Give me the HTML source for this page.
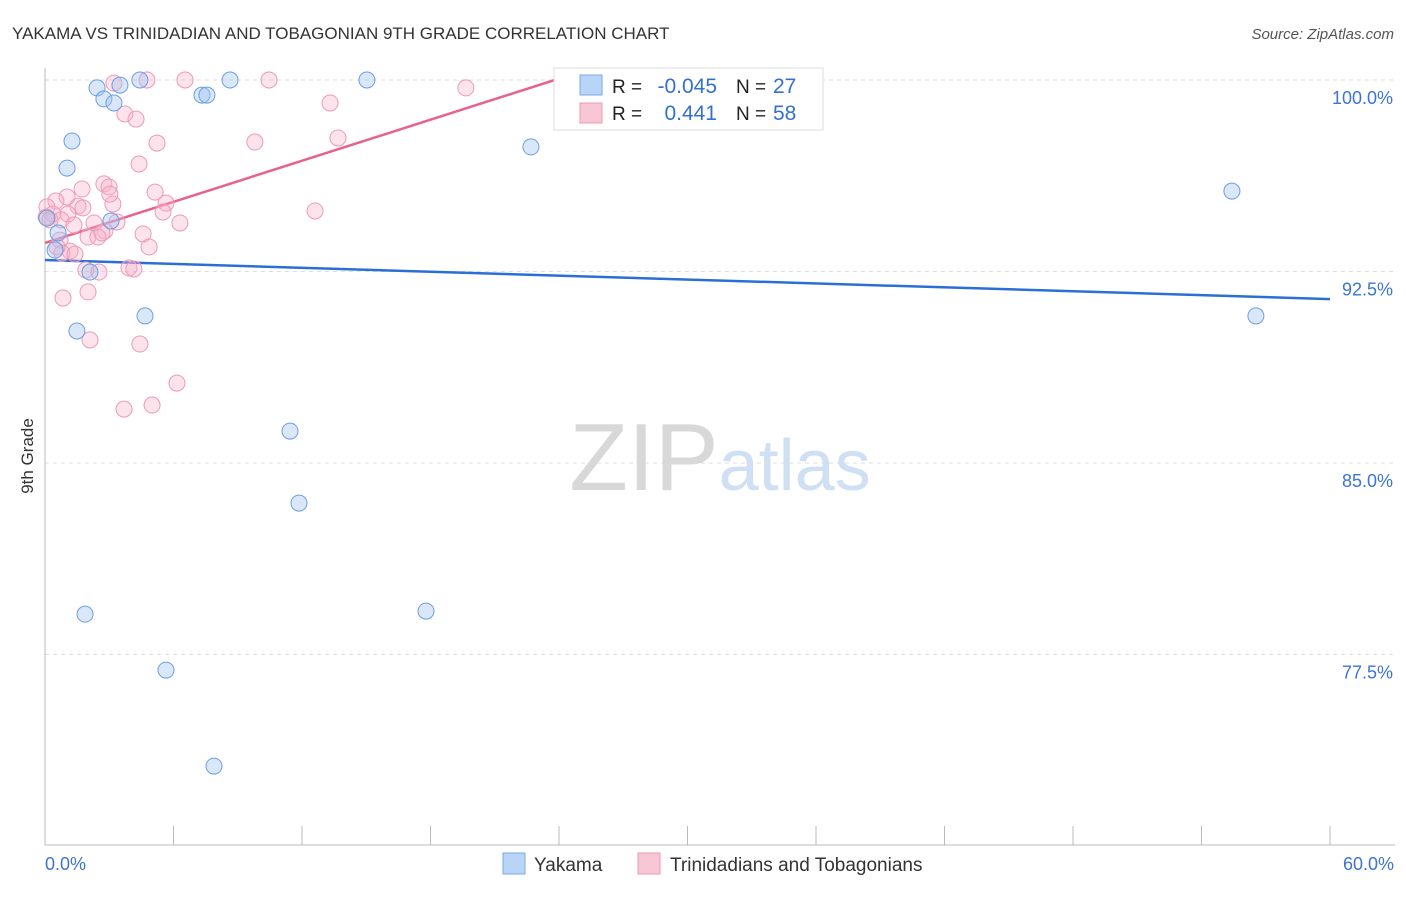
<!DOCTYPE html>
<html><head><meta charset="utf-8"><style>
body{margin:0;background:#fff;font-family:"Liberation Sans",sans-serif;}
svg text{font-family:"Liberation Sans",sans-serif;}
</style></head><body>
<svg id="chart" width="1406" height="892">
<text x="12" y="39" font-size="17" fill="#333">YAKAMA VS TRINIDADIAN AND TOBAGONIAN 9TH GRADE CORRELATION CHART</text>
<text x="1394" y="39" font-size="15" fill="#555" font-style="italic" text-anchor="end">Source: ZipAtlas.com</text>
<text x="33" y="456" font-size="17" fill="#333" transform="rotate(-90 33 456)" text-anchor="middle">9th Grade</text>
<text x="720" y="490" font-size="96" fill="#ddd" text-anchor="middle" font-family="Liberation Serif"><tspan fill="#d8d8d8">ZIP</tspan><tspan fill="#cfe0f4" font-family="Liberation Sans" font-size="72">atlas</tspan></text>
<g id="grid"></g><g id="axes"></g><g id="trends"></g><g id="pts"></g>
<g>
<rect x="554" y="68" width="269" height="62" fill="#fff" stroke="#ddd"/>
<rect x="580" y="75" width="22" height="20" fill="#b8d4f6" stroke="#7aaae6"/>
<rect x="580" y="103" width="22" height="20" fill="#f9c6d6" stroke="#eb9ab5"/>
<text x="612" y="93" font-size="19" fill="#222">R = </text><text x="717" y="93" font-size="21" fill="#3470d0" text-anchor="end">-0.045</text>
<text x="736" y="93" font-size="19" fill="#222">N = </text><text x="773" y="93" font-size="21" fill="#3470d0">27</text>
<text x="612" y="120" font-size="19" fill="#222">R = </text><text x="717" y="120" font-size="21" fill="#3470d0" text-anchor="end">0.441</text>
<text x="736" y="120" font-size="19" fill="#222">N = </text><text x="773" y="120" font-size="21" fill="#3470d0">58</text>
</g>
<g>
<rect x="503" y="853" width="22" height="21" fill="#b8d4f6" stroke="#7aaae6"/>
<text x="534" y="871" font-size="19" fill="#333">Yakama</text>
<rect x="638" y="853" width="22" height="21" fill="#f9c6d6" stroke="#eb9ab5"/>
<text x="670" y="871" font-size="19" fill="#333">Trinidadians and Tobagonians</text>
</g>
</svg>
<script>
const yTicks=[100,92.5,85,77.5];
const yTickLabels=["100.0%","92.5%","85.0%","77.5%"];
const xTicks=[0,6,12,18,24,30,36,42,48,54,60];
const blueX=[2.43,3.5,2.75,3.22,4.43,8.64,15.03,7.33,7.56,1.26,1.03,22.69,55.42,3.08,0.09,0.61,0.47,2.1,1.49,4.67,56.54,11.44,11.86,1.87,17.79,5.65,7.89];
const blueY=[99.69,99.8,99.26,99.1,100,100,100,99.41,99.41,97.61,96.55,97.38,95.65,94.48,94.59,94.01,93.34,92.48,90.17,90.76,90.76,86.25,83.43,79.08,79.2,76.89,73.13];
const pinkX=[3.22,4.76,6.54,10.46,28.29,19.65,13.31,3.73,4.25,9.8,13.68,5.23,4.39,2.75,2.99,1.73,1.03,5.14,0.51,0.09,1.54,3.17,5.65,5.51,12.61,0.37,1.07,0.05,0.75,3.36,6.3,2.29,2.8,4.58,2.01,2.47,0.7,4.86,1.17,0.79,1.4,1.91,2.52,3.92,4.15,2.01,0.84,2.1,4.43,6.16,5.0,3.69,1.35,0.23,2.66,0.56,3.03,1.77];
const pinkY=[99.88,100,100,100,100,99.69,99.1,98.67,98.47,97.57,97.73,97.53,96.71,95.93,95.81,95.73,95.42,95.61,95.26,95.03,95.06,95.14,95.18,94.83,94.87,94.75,94.75,94.63,94.52,94.44,94.4,94.4,94.09,93.97,93.85,93.85,93.73,93.46,93.3,93.22,93.18,92.56,92.48,92.64,92.6,91.7,91.46,89.82,89.66,88.13,87.27,87.11,94.32,94.52,94.01,93.46,95.53,94.99];
const blueTrend=[[0,92.95],[60,91.42]];
const pinkTrend=[[0,93.62],[23.8,100]];
const X=v=>45+v*(1285/60), Y=v=>80+(100-v)*(191.5/7.5);
const NS="http://www.w3.org/2000/svg";
function mk(tag,attrs,parent){const e=document.createElementNS(NS,tag);for(const k in attrs)e.setAttribute(k,attrs[k]);document.getElementById(parent).appendChild(e);return e;}
yTicks.forEach((t,i)=>{
 const l=mk('line',{x1:45,x2:1395,y1:Y(t),y2:Y(t),stroke:'#ddd','stroke-dasharray':'4,4'},'grid');
 
 
 const tx=mk('text',{x:1393,y:Y(t)+24,'font-size':18,fill:'#3d74d2','text-anchor':'end'},'grid');tx.textContent=yTickLabels[i];
 
 
});
const ax=mk('line',{x1:45,x2:45,y1:68,y2:845,stroke:'#bbb'},'axes');


const bx=mk('line',{x1:45,x2:1395,y1:845,y2:845,stroke:'#bbb'},'axes');


xTicks.forEach(t=>{const l=mk('line',{x1:X(t),x2:X(t),y1:826,y2:845,stroke:'#bbb'},'axes');
 
 });
const xl0=mk('text',{x:45,y:870,'font-size':18,fill:'#3d74d2'},'axes');xl0.textContent='0.0%';


const xl1=mk('text',{x:1394,y:870,'font-size':18,fill:'#3d74d2','text-anchor':'end'},'axes');xl1.textContent='60.0%';


pinkX.forEach((x,i)=>{const c=mk('circle',{cx:X(x),cy:Y(pinkY[i]),r:8,fill:'rgba(246,176,200,0.35)',stroke:'#ee9ab6','stroke-width':1},'pts');
 
 });
blueX.forEach((x,i)=>{const c=mk('circle',{cx:X(x),cy:Y(blueY[i]),r:8,fill:'rgba(160,196,240,0.4)',stroke:'#6b9fe2','stroke-width':1},'pts');
 
 });
const bt=mk('line',{x1:X(blueTrend[0][0]),y1:Y(blueTrend[0][1]),x2:X(blueTrend[1][0]),y2:Y(blueTrend[1][1]),stroke:'#2a6fd6','stroke-width':2.5},'trends');


const pt=mk('line',{x1:X(pinkTrend[0][0]),y1:Y(pinkTrend[0][1]),x2:X(pinkTrend[1][0]),y2:Y(pinkTrend[1][1]),stroke:'#e8628f','stroke-width':2.5},'trends');


</script>
</body></html>
